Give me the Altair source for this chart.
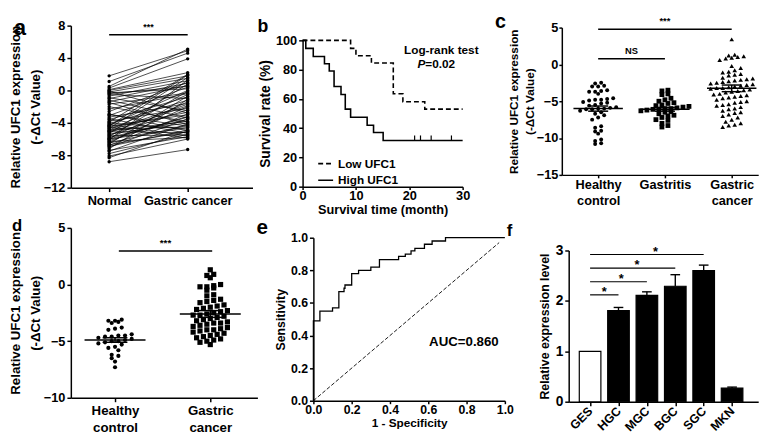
import altair as alt
import pandas as pd

FONT = "Liberation Sans"

# ---------------- data ----------------
# a: paired Normal / Gastric cancer (-dCt)
a_normal = [1.8, 1.1, 0.5, 0.3, 0.1, 0.0, -0.2, -0.3, -0.5, -0.7,
            -0.9, -1.0, -1.2, -1.4, -1.5, -1.7, -2.6, -2.9, -3.1, -3.3,
            -3.5, -3.6, -3.8, -3.9, -4.0, -4.1, -4.2, -4.3, -4.4, -4.5,
            -4.6, -4.7, -4.8, -4.9, -5.0, -5.1, -5.2, -5.3, -5.4, -5.5,
            -5.6, -5.7, -5.8, -5.9, -6.0, -6.1, -6.2, -6.3, -6.4, -6.5,
            -6.6, -6.7, -6.8, -6.9, -7.0, -7.2, -7.4, -7.5, -7.8, -8.1,
            -8.3, -8.8, -0.1, -0.4, -2.0, -2.3, -3.0, -4.4, -5.0, -6.0]
a_gastric = [4.9, 4.6, 5.1, 3.9, 2.2, 1.8, 1.5, 0.2, -1.0, 1.2,
             -2.5, 0.9, -3.4, 0.6, -4.2, -0.3, 1.0, -5.0, 0.4, -1.6,
             -5.3, -0.8, -2.2, 2.0, -4.8, -1.2, -5.6, 0.0, -3.0, -5.9,
             -2.7, 1.6, -4.5, -0.5, -3.8, -5.2, -1.9, 0.8, -4.0, -2.4,
             -5.5, -0.1, -3.6, -1.4, -4.6, 1.3, -3.2, -5.8, -2.0, -4.3,
             -0.7, -5.1, -2.9, -4.9, -3.5, -1.1, -5.7, -4.1, -5.4, -6.0,
             -5.0, -7.3, -2.8, 0.5, -3.9, -0.4, -4.4, 1.9, -1.7, -3.3]
a_sig_y = 6.87

# b: Kaplan-Meier
b_low_t = [0, 9.0, 10.0, 12.9, 17.0, 18.8, 22.9, 30]
b_low_s = [100, 94.5, 89.5, 84.5, 63.5, 58.0, 53.0, 53.0]
b_high_t = [0, 0.6, 2.0, 4.1, 5.0, 5.9, 7.2, 8.0, 9.0, 12.1, 13.3, 15.1, 30]
b_high_s = [100, 94.5, 89.0, 84.0, 79.0, 68.5, 63.0, 53.0, 47.5, 42.0, 37.0, 31.5, 31.5]
b_censor_t = [21.0, 22.1, 24.1, 27.9]
b_censor_s = 31.5

# c: healthy control / gastritis / gastric cancer
c_healthy = [-2.5, -2.6, -2.9, -3.0, -3.0, -3.5, -3.6, -3.7, -3.7, -4.0,
             -4.6, -4.7, -4.8, -4.8, -4.9, -5.1, -5.2, -5.3, -5.5, -5.6,
             -5.8, -5.9, -6.0, -6.0, -6.1, -6.1, -6.3, -6.5, -6.7, -6.9,
             -7.2, -7.5, -8.4, -8.6, -9.0, -9.1, -9.4, -10.2, -10.4, -10.7, -10.8]
c_gastritis = [-3.5, -3.6, -4.0, -4.1, -4.6, -4.8, -5.0, -5.2, -5.3, -5.5,
               -5.6, -5.7, -5.8, -5.9, -6.0, -6.0, -6.1, -6.1, -6.2, -6.3,
               -6.4, -6.5, -6.7, -6.9, -7.0, -7.2, -7.5, -7.6, -8.0, -8.3, -8.5]
c_cancer = [3.4, 1.3, 1.2, 1.0, 1.1, 0.8, 0.9, 0.6, -0.2, -0.5,
            -1.0, -1.1, -1.3, -1.4, -1.5, -1.8, -1.9, -2.0, -2.1, -2.3,
            -2.4, -2.5, -2.6, -2.7, -2.8, -2.9, -3.0, -3.1, -3.2, -3.2,
            -3.3, -3.4, -3.5, -3.6, -3.7, -3.8, -4.0, -4.1, -4.2, -4.3,
            -4.5, -4.6, -4.8, -5.0, -5.1, -5.2, -5.4, -5.6, -5.8, -6.0,
            -6.1, -6.3, -6.5, -6.8, -7.0, -7.2, -7.5, -7.8, -8.0, -8.2,
            -8.5, -8.3, -4.4, -2.2, -0.8, -5.5, -6.6]
c_means = [-6.0, -6.1, -3.25]
c_sems = [0.35, 0.25, 0.45]

# d: healthy control / gastric cancer
d_healthy = [-3.1, -3.2, -3.2, -3.3, -3.4, -3.8, -3.9, -4.0, -4.4, -4.5,
             -4.5, -4.6, -4.6, -4.7, -4.8, -4.9, -5.0, -5.0, -5.1, -5.2,
             -5.3, -5.5, -5.6, -5.8, -6.2, -6.3, -6.5, -6.8, -7.3]
d_cancer = [1.3, 0.9, 0.6, 0.8, 0.0, -0.1, -0.2, -0.2, -0.3, -0.5,
            -0.9, -1.0, -1.3, -1.4, -1.5, -1.6, -1.9, -2.0, -2.1, -2.2,
            -2.3, -2.4, -2.5, -2.6, -2.7, -2.8, -2.9, -3.0, -3.1, -3.2,
            -3.3, -3.4, -3.5, -3.6, -3.7, -3.8, -3.9, -4.0, -4.1, -4.2,
            -4.3, -4.4, -4.5, -4.6, -4.7, -4.8, -4.9, -5.0, -5.1, -5.3,
            -3.4, -4.0, -2.7, -1.8]
d_means = [-4.9, -2.6]
d_sems = [0.2, 0.3]
d_sig_y = 2.97

# e: ROC
roc_fpr = [0, 0, 0.034, 0.10, 0.133, 0.16, 0.165, 0.20, 0.236, 0.30, 0.345,
           0.445, 0.48, 0.51, 0.53, 0.58, 0.62, 0.69, 1.0]
roc_tpr = [0, 0.49, 0.55, 0.57, 0.67, 0.69, 0.71, 0.78, 0.80, 0.82, 0.865,
           0.885, 0.90, 0.92, 0.935, 0.96, 0.98, 1.0, 1.0]
auc_text = "AUC=0.860"

# f: cell lines
f_cells = ["GES", "HGC", "MGC", "BGC", "SGC", "MKN"]
f_vals = [1.0, 1.81, 2.11, 2.29, 2.60, 0.27]
f_errs = [0.0, 0.06, 0.07, 0.23, 0.11, 0.02]
f_sig_to = [1, 2, 3, 4]
f_sig_y = [2.12, 2.38, 2.65, 2.92]
f_star_x = [0.5, 1.1, 1.65, 2.3]

# ---------------- helpers ----------------
def swarm(values, center, ybin, xstep):
    bins = {}
    for i, v in enumerate(values):
        bins.setdefault(round(v / ybin), []).append(i)
    xs = [center] * len(values)
    for idx in bins.values():
        idx = sorted(idx, key=lambda i: values[i])
        n = len(idx)
        for j, i in zip(range(n), idx):
            xs[i] = center + (j - (n - 1) / 2) * xstep
    return xs


def txt(**kw):
    base = dict(font=FONT, fontWeight="bold", color="black")
    base.update(kw)
    return base


def letter(t, dx, offset, size):
    return alt.TitleParams(text=t, anchor="start", frame="group", dx=dx, offset=offset,
                           fontSize=size, fontWeight="bold", font=FONT, color="black")

# grid geometry (plot-area layout)
COL_W = [196, 224, 210]
COL_GAP = 40
ROW_GAP = 41

# ---------------- panel a ----------------
na = len(a_normal)
dfa = pd.DataFrame({"pair": list(range(na)) * 2, "x": [0] * na + [1] * na,
                    "y": a_normal + a_gastric})
xa = alt.X("x:Q", scale=alt.Scale(domain=[-39 / 80, 146 / 80], range=[0, 185], nice=False, zero=False),
           axis=alt.Axis(values=[0, 1], title=None, labelFontSize=13, labelPadding=3,
                         labelExpr="datum.value == 0 ? 'Normal' : 'Gastric cancer'"))
ya = alt.Y("y:Q", scale=alt.Scale(domain=[-12, 8], nice=False, zero=False),
           axis=alt.Axis(values=[8, 4, 0, -4, -8, -12], title=["Relative UFC1 expression", "(-ΔCt Value)"],
                         titleFontSize=13.5, titleLineHeight=20, titlePadding=1, labelFontSize=13))
a_lines = alt.Chart(dfa).mark_line(color="black", strokeWidth=0.7).encode(x=xa, y=ya, detail="pair:N")
a_pts = alt.Chart(dfa).mark_circle(color="black", size=12, opacity=1).encode(x=xa, y=ya)
a_sig = alt.Chart(pd.DataFrame({"x": [0], "x2": [1], "y": [a_sig_y]})).mark_rule(
    color="black", strokeWidth=1.5).encode(x=xa, x2="x2:Q", y=ya)
a_star = alt.Chart(pd.DataFrame({"x": [0.5], "y": [a_sig_y], "t": ["***"]})).mark_text(
    **txt(fontSize=9, baseline="bottom", dy=-3)).encode(x=xa, y=ya, text="t:N")
panel_a = alt.layer(a_lines, a_pts, a_sig, a_star).properties(
    width=COL_W[0], height=165, title=letter("a", -58, -21, 22))

# ---------------- panel b ----------------
dfb = pd.DataFrame({"x": b_low_t + b_high_t, "y": b_low_s + b_high_s,
                    "g": ["Low UFC1"] * len(b_low_t) + ["High UFC1"] * len(b_high_t)})
xb = alt.X("x:Q", scale=alt.Scale(domain=[0, 30], range=[0, 163], nice=False, zero=False),
           axis=alt.Axis(values=[0, 10, 20, 30], title="Survival time (month)", titleFontSize=13,
                         titlePadding=1, labelFontSize=13, tickSize=3, labelPadding=0))
yb = alt.Y("y:Q", scale=alt.Scale(domain=[0, 100], range=[164, 15], nice=False, zero=False),
           axis=alt.Axis(values=[0, 20, 40, 60, 80, 100], title="Survival rate (%)", titleFontSize=14,
                         titlePadding=3, labelFontSize=13))
b_lines = alt.Chart(dfb).mark_line(interpolate="step-after", color="black", strokeWidth=1.6).encode(
    x=xb, y=yb,
    strokeDash=alt.StrokeDash("g:N", scale=alt.Scale(domain=["Low UFC1", "High UFC1"], range=[[5, 3], [1, 0]]),
                              legend=alt.Legend(orient="none", legendX=COL_W[0] + COL_GAP + 15, legendY=132,
                                                title=None, symbolType="stroke", symbolStrokeColor="black",
                                                symbolStrokeWidth=1.6, symbolSize=230, rowPadding=2,
                                                labelFont=FONT, labelFontSize=12, labelFontWeight="bold",
                                                labelColor="black", padding=0)))
dfc_b = pd.DataFrame({"x": b_censor_t, "y": [b_censor_s] * len(b_censor_t),
                      "y2": [b_censor_s + 3.5] * len(b_censor_t)})
b_cens = alt.Chart(dfc_b).mark_rule(color="black", strokeWidth=1.2).encode(x=xb, y=yb, y2="y2:Q")
b_t1 = alt.Chart(pd.DataFrame({"x": [26.0], "y": [93.5], "t": ["Log-rank test"]})).mark_text(
    **txt(fontSize=12)).encode(x=xb, y=yb, text="t:N")
b_t2 = alt.Chart(pd.DataFrame({"x": [23.0], "y": [83.5], "t": ["P"]})).mark_text(
    **txt(fontSize=12, fontStyle="italic", align="right")).encode(x=xb, y=yb, text="t:N")
b_t3 = alt.Chart(pd.DataFrame({"x": [23.0], "y": [83.5], "t": ["=0.02"]})).mark_text(
    **txt(fontSize=12, align="left")).encode(x=xb, y=yb, text="t:N")
panel_b = alt.layer(b_lines, b_cens, b_t1, b_t2, b_t3).properties(
    width=COL_W[1], height=164, title=letter("b", -46, -10, 18))

# ---------------- panel c ----------------
C_PX = 68.0
xc = alt.X("x:Q", scale=alt.Scale(domain=[-37 / C_PX, 163 / C_PX], range=[0, 200], nice=False, zero=False),
           axis=alt.Axis(values=[0, 1, 2], title=None, labelFontSize=13, labelPadding=1,
                         labelBaseline="top", labelLineHeight=16, tickSize=3,
                         labelExpr="datum.value == 0 ? ['Healthy','control'] : datum.value == 1 ? 'Gastritis' : ['Gastric','cancer']"))
yc = alt.Y("y:Q", scale=alt.Scale(domain=[-15, 5], range=[152, 2], nice=False, zero=False),
           axis=alt.Axis(values=[5, 0, -5, -10, -15], title=["Relative UFC1 expression", "(-ΔCt Value)"],
                         titleFontSize=12, titleLineHeight=16, titlePadding=0, labelFontSize=13,
                         tickSize=3, labelPadding=1))
dc1 = pd.DataFrame({"x": swarm(c_healthy, 0, 0.6, 0.09), "y": c_healthy})
dc2 = pd.DataFrame({"x": swarm(c_gastritis, 1, 0.6, 0.09), "y": c_gastritis})
dc3 = pd.DataFrame({"x": swarm(c_cancer, 2, 0.75, 0.09), "y": c_cancer})
c_p1 = alt.Chart(dc1).mark_point(shape="circle", filled=True, color="black", size=16, opacity=1).encode(x=xc, y=yc)
c_p2 = alt.Chart(dc2).mark_point(shape="square", filled=True, color="black", size=24, opacity=1).encode(x=xc, y=yc)
c_p3 = alt.Chart(dc3).mark_point(shape="triangle-up", filled=True, color="black", size=22, opacity=1).encode(x=xc, y=yc)
pos_c = [0, 1, 2]
dmc = pd.DataFrame({"x": [p - 0.37 for p in pos_c], "x2": [p + 0.37 for p in pos_c], "y": c_means})
c_mean = alt.Chart(dmc).mark_rule(color="black", strokeWidth=1.5).encode(x=xc, x2="x2:Q", y=yc)
dsc = pd.DataFrame({"x": pos_c, "y": [m - s for m, s in zip(c_means, c_sems)],
                    "y2": [m + s for m, s in zip(c_means, c_sems)]})
c_sem = alt.Chart(dsc).mark_rule(color="black", strokeWidth=1.5).encode(x=xc, y=yc, y2="y2:Q")
dcap_c = pd.DataFrame({"x": [p - 0.15 for p in pos_c] * 2, "x2": [p + 0.15 for p in pos_c] * 2,
                       "y": [m - s for m, s in zip(c_means, c_sems)] + [m + s for m, s in zip(c_means, c_sems)]})
c_cap = alt.Chart(dcap_c).mark_rule(color="black", strokeWidth=1.5).encode(x=xc, x2="x2:Q", y=yc)
dsig_c = pd.DataFrame({"x": [0, 0], "x2": [2, 1], "y": [4.78, 0.77]})
c_sig = alt.Chart(dsig_c).mark_rule(color="black", strokeWidth=1.5).encode(x=xc, x2="x2:Q", y=yc)
dst_c = pd.DataFrame({"x": [1.0, 0.5], "y": [4.78, 0.77], "t": ["***", "NS"]})
c_st = alt.Chart(dst_c).mark_text(**txt(fontSize=9.5, baseline="bottom", dy=-3)).encode(x=xc, y=yc, text="t:N")
panel_c = alt.layer(c_p1, c_p2, c_p3, c_mean, c_sem, c_cap, c_sig, c_st).properties(
    width=COL_W[2], height=152, title=letter("c", -68, -16, 20))

# ---------------- panel d ----------------
D_PX = 97.0
xd = alt.X("x:Q", scale=alt.Scale(domain=[-45 / D_PX, 145 / D_PX], range=[0, 190], nice=False, zero=False),
           axis=alt.Axis(values=[0, 1], title=None, labelFontSize=13.5, labelPadding=2,
                         labelBaseline="top", labelLineHeight=17,
                         labelExpr="datum.value == 0 ? ['Healthy','control'] : ['Gastric','cancer']"))
yd = alt.Y("y:Q", scale=alt.Scale(domain=[-10, 5], nice=False, zero=False),
           axis=alt.Axis(values=[5, 0, -5, -10], title=["Relative UFC1 expression", "(-ΔCt Value)"],
                         titleFontSize=13.5, titleLineHeight=20, titlePadding=1, labelFontSize=13))
dd1 = pd.DataFrame({"x": swarm(d_healthy, 0, 0.5, 0.07), "y": d_healthy})
dd2 = pd.DataFrame({"x": swarm(d_cancer, 1, 0.5, 0.072), "y": d_cancer})
d_p1 = alt.Chart(dd1).mark_point(shape="circle", filled=True, color="black", size=18, opacity=1).encode(x=xd, y=yd)
d_p2 = alt.Chart(dd2).mark_point(shape="square", filled=True, color="black", size=28, opacity=1).encode(x=xd, y=yd)
pos_d = [0, 1]
dmd = pd.DataFrame({"x": [p - 0.32 for p in pos_d], "x2": [p + 0.32 for p in pos_d], "y": d_means})
d_mean = alt.Chart(dmd).mark_rule(color="black", strokeWidth=1.5).encode(x=xd, x2="x2:Q", y=yd)
dsd = pd.DataFrame({"x": pos_d, "y": [m - s for m, s in zip(d_means, d_sems)],
                    "y2": [m + s for m, s in zip(d_means, d_sems)]})
d_sem = alt.Chart(dsd).mark_rule(color="black", strokeWidth=1.5).encode(x=xd, y=yd, y2="y2:Q")
dcap_d = pd.DataFrame({"x": [p - 0.13 for p in pos_d] * 2, "x2": [p + 0.13 for p in pos_d] * 2,
                       "y": [m - s for m, s in zip(d_means, d_sems)] + [m + s for m, s in zip(d_means, d_sems)]})
d_cap = alt.Chart(dcap_d).mark_rule(color="black", strokeWidth=1.5).encode(x=xd, x2="x2:Q", y=yd)
d_sig = alt.Chart(pd.DataFrame({"x": [0.04], "x2": [1.02], "y": [d_sig_y]})).mark_rule(
    color="black", strokeWidth=1.5).encode(x=xd, x2="x2:Q", y=yd)
d_st = alt.Chart(pd.DataFrame({"x": [0.53], "y": [d_sig_y], "t": ["***"]})).mark_text(
    **txt(fontSize=10, baseline="bottom", dy=-3)).encode(x=xd, y=yd, text="t:N")
panel_d = alt.layer(d_p1, d_p2, d_mean, d_sem, d_cap, d_sig, d_st).properties(
    width=COL_W[0], height=173, title=letter("d", -60, -13.5, 17))

# ---------------- panel e ----------------
E_OFF = 11
xe = alt.X("x:Q", scale=alt.Scale(domain=[0, 1], range=[E_OFF, E_OFF + 195], nice=False, zero=False),
           axis=alt.Axis(values=[0, 0.2, 0.4, 0.6, 0.8, 1.0], format=".1f", title="1 - Specificity",
                         titleFontSize=12, titlePadding=2, labelFontSize=12.5, tickSize=3, labelPadding=0))
ye = alt.Y("y:Q", scale=alt.Scale(domain=[0, 1], range=[176, 10], nice=False, zero=False),
           axis=alt.Axis(values=[0, 0.2, 0.4, 0.6, 0.8, 1.0], format=".1f", title="Sensitivity",
                         titleFontSize=12.5, titlePadding=3, labelFontSize=12.5, offset=-E_OFF))
dfe = pd.DataFrame({"i": list(range(len(roc_fpr))), "x": roc_fpr, "y": roc_tpr})
e_roc = alt.Chart(dfe).mark_line(interpolate="step-after", color="black", strokeWidth=1.3).encode(
    x=xe, y=ye, order="i:Q")
e_diag = alt.Chart(pd.DataFrame({"i": [0, 1], "x": [0, 0.97], "y": [0, 0.97]})).mark_line(
    color="black", strokeWidth=0.9, strokeDash=[4, 2]).encode(x=xe, y=ye, order="i:Q")
e_auc = alt.Chart(pd.DataFrame({"x": [0.786], "y": [0.36], "t": [auc_text]})).mark_text(
    **txt(fontSize=13.5)).encode(x=xe, y=ye, text="t:N")
panel_e = alt.layer(e_roc, e_diag, e_auc).properties(
    width=COL_W[1], height=176, title=letter("e", -58 + E_OFF, -10, 21))

# ---------------- panel f ----------------
F_OFF = 7
F_STEP = 30.5
f_xscale = alt.Scale(domain=[-17.7 / F_STEP, (193 - 17.7) / F_STEP], range=[F_OFF, F_OFF + 193],
                     nice=False, zero=False)
f_yscale = alt.Scale(domain=[0, 3], range=[177, 23], nice=False, zero=False)
xf = alt.X("x:Q", scale=f_xscale,
           axis=alt.Axis(values=list(range(6)), title=None, labelFontSize=12.5, labelAngle=315,
                         labelAlign="right", labelBaseline="middle", labelPadding=3,
                         labelExpr="['GES','HGC','MGC','BGC','SGC','MKN'][datum.value]"))
yf = alt.Y("y:Q", scale=f_yscale,
           axis=alt.Axis(values=[0, 1, 2, 3], title="Relative expression level", titleFontSize=12.5,
                         titlePadding=4, labelFontSize=14, offset=-F_OFF))
dff = pd.DataFrame({"x": list(range(6)), "y": f_vals, "base": [0] * 6,
                    "kind": ["ctrl"] + ["cell"] * 5,
                    "top": [v + e for v, e in zip(f_vals, f_errs)]})
dfcap = pd.DataFrame({"x": [i - 0.17 for i in range(1, 6)], "x2": [i + 0.17 for i in range(1, 6)],
                      "y": [v + e for v, e in zip(f_vals[1:], f_errs[1:])]})
f_err = alt.Chart(dff).transform_filter("datum.x > 0").mark_rule(color="black", strokeWidth=1.4).encode(
    x=xf, y=yf, y2="top:Q")
f_cap = alt.Chart(dfcap).mark_rule(color="black", strokeWidth=1.4).encode(x=xf, x2="x2:Q", y=yf)
f_bars = alt.Chart(dff).mark_bar(size=22, stroke="black", strokeWidth=1.2, orient="vertical").encode(
    x=xf, y=yf, y2="base:Q",
    fill=alt.Fill("kind:N", scale=alt.Scale(domain=["ctrl", "cell"], range=["white", "black"]), legend=None))
dsf = pd.DataFrame({"x": [0] * 4, "x2": f_sig_to, "y": f_sig_y})
f_sig = alt.Chart(dsf).mark_rule(color="black", strokeWidth=1.2).encode(x=xf, x2="x2:Q", y=yf)
dstf = pd.DataFrame({"x": f_star_x, "y": f_sig_y, "t": ["*"] * 4})
f_st = alt.Chart(dstf).mark_text(**txt(fontSize=13, baseline="middle", dy=-3)).encode(x=xf, y=yf, text="t:N")
panel_f = alt.layer(f_err, f_cap, f_bars, f_sig, f_st).properties(
    width=COL_W[2], height=177, title=letter("f", -63 + F_OFF, -12, 17))

# ---------------- layout ----------------
chart = alt.concat(panel_a, panel_b, panel_c, panel_d, panel_e, panel_f, columns=3,
                   spacing=alt.RowColnumber(row=ROW_GAP, column=COL_GAP), bounds="flush").configure_axis(
    domainColor="black", domainWidth=1.5, tickColor="black", tickWidth=1.5, tickSize=4,
    labelFont=FONT, labelFontWeight="bold", labelColor="black", titleFont=FONT,
    titleFontWeight="bold", titleColor="black", grid=False, labelFlush=False,
    labelOverlap=False, labelPadding=2, labelBound=False
).configure_view(stroke=None).properties(padding={"left": 0, "top": 0, "right": 2, "bottom": 0})

chart.save("out.html", embed_options={"renderer": "svg", "actions": False})
